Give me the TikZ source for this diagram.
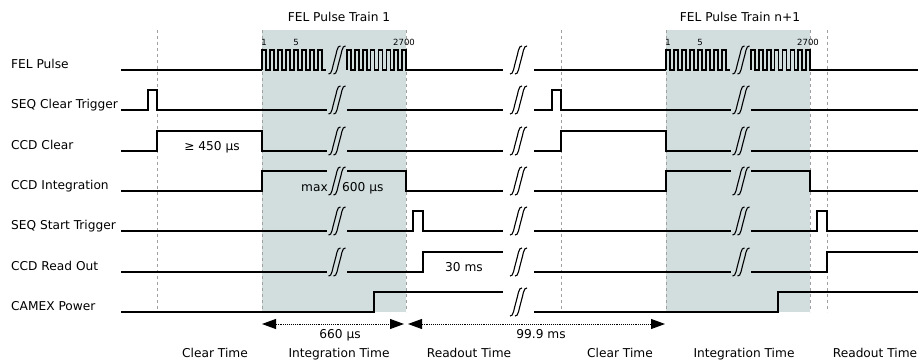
\documentclass[tikz,border=0pt]{standalone}
\usepackage{fontspec}
\setmainfont{DejaVu Sans}
\usetikzlibrary{arrows.meta, positioning, calc}
\definecolor{trainF}{HTML}{D2DEDE}
\definecolor{guideS}{HTML}{A0A0A0}
\tikzset{
  >={Triangle[length=14pt, width=10pt]},
  sig/.style={line width=1.9pt, line join=miter},
  pulse/.style={line width=1.6pt, line join=miter},
  guide/.style={dashed, draw=guideS, line width=0.7pt},
  trainbox/.style={fill=trainF, draw=none},
  rowlabel/.style={anchor=base west, inner sep=0pt, font=\fontsize{12.2}{14}\selectfont},
  tlabel/.style={anchor=base, inner sep=0pt, font=\fontsize{12.2}{14}\selectfont},
  plabel/.style={anchor=base, inner sep=0pt, font=\fontsize{8.5}{10}\selectfont},
  spanarrow/.style={<->, densely dotted, line width=0.9pt},
  brk/.pic={
    \draw[line width=1.1pt, xshift=-2.5pt] (-6,14) .. controls (-2.5,15) and (-2,6) .. (0,0)
      .. controls (2,-6) and (2.5,-15) .. (6,-14);
    \draw[line width=1.1pt, xshift=2.5pt] (-6,14) .. controls (-2.5,15) and (-2,6) .. (0,0)
      .. controls (2,-6) and (2.5,-15) .. (6,-14);
  },
}

\begin{document}
\begin{tikzpicture}[x=1pt, y=-1pt]
  \useasboundingbox (0,0) rectangle (918,361);

  % ---- Background --------------------------------------------------------
  \fill[trainbox] (262,30) rectangle (406,312);
  \fill[trainbox] (666,30) rectangle (810,312);
  \foreach \xg in {157,262,406,561,666,810,827}
    \draw[guide] (\xg,30) -- (\xg,312);

  % ---- Nodes -------------------------------------------------------------
  \node[tlabel] (train1) at (339,21.5) {FEL Pulse Train 1};
  \node[tlabel] (train2) at (740,21.5) {FEL Pulse Train n+1};

  \node[rowlabel] (fel)   at (11,68.5)  {FEL Pulse};
  \node[rowlabel] (seqc)  at (11,108.5) {SEQ Clear Trigger};
  \node[rowlabel] (clear) at (11,149.5) {CCD Clear};
  \node[rowlabel] (integ) at (11,189.5) {CCD Integration};
  \node[rowlabel] (seqs)  at (11,229.5) {SEQ Start Trigger};
  \node[rowlabel] (read)  at (11,270.5) {CCD Read Out};
  \node[rowlabel] (camex) at (11,310.5) {CAMEX Power};

  \node[plabel] (p1a) at (264,46) {1};
  \node[plabel] (p5a) at (296,46) {5};
  \node[plabel] (pna) at (404,46) {2700};
  \node[plabel] (p1b) at (668,46) {1};
  \node[plabel] (p5b) at (700,46) {5};
  \node[plabel] (pnb) at (808,46) {2700};

  \node[tlabel] (tclear) at (212,150.5) {≥ 450 µs};
  \node[tlabel, anchor=base east] (tmax) at (328,191.5) {max};
  \node[tlabel, anchor=base west] (tint) at (342,191.5) {600 µs};
  \node[tlabel] (tread) at (464,271.5) {30 ms};

  % ---- Signals -----------------------------------------------------------
  % FEL pulse trains
  \draw[sig] (121,70) -- (262,70);
  \draw[pulse] (262,70)
    \foreach \k in {1,...,8} { -- ++(0,-20) -- ++(4,0) -- ++(0,20) -- ++(4,0) };
  \draw[pulse] (347,70)
    \foreach \k in {1,...,8} { -- ++(0,-20) -- ++(4,0) -- ++(0,20) -- ++(3.86,0) };
  \draw[sig] (406,70) -- (503,70);
  \draw[sig] (534,70) -- (666,70);
  \draw[pulse] (666,70)
    \foreach \k in {1,...,8} { -- ++(0,-20) -- ++(4,0) -- ++(0,20) -- ++(4,0) };
  \draw[pulse] (751,70)
    \foreach \k in {1,...,8} { -- ++(0,-20) -- ++(4,0) -- ++(0,20) -- ++(3.86,0) };
  \draw[sig] (810,70) -- (918,70);

  % SEQ clear trigger
  \draw[sig] (121,110) -| (148,90) -| (157,110) -- (327,110);
  \draw[sig] (347,110) -- (503,110);
  \draw[sig] (534,110) -| (552,90) -| (561,110) -- (731,110);
  \draw[sig] (751,110) -- (918,110);

  % CCD clear
  \draw[sig] (121,151) -| (157,131) -| (262,151) -- (327,151);
  \draw[sig] (347,151) -- (503,151);
  \draw[sig] (534,151) -| (561,131) -| (666,151) -- (731,151);
  \draw[sig] (751,151) -- (918,151);

  % CCD integration
  \draw[sig] (121,191) -| (262,171) -- (327,171);
  \draw[sig] (347,171) -| (406,191) -- (503,191);
  \draw[sig] (534,191) -| (666,171) -- (731,171);
  \draw[sig] (751,171) -| (810,191) -- (918,191);

  % SEQ start trigger
  \draw[sig] (121,231) -- (327,231);
  \draw[sig] (347,231) -| (413,211) -| (423,231) -- (503,231);
  \draw[sig] (534,231) -- (731,231);
  \draw[sig] (751,231) -| (817,211) -| (827,231) -- (918,231);

  % CCD read out
  \draw[sig] (121,272) -- (327,272);
  \draw[sig] (347,272) -| (423,252) -- (503,252);
  \draw[sig] (534,272) -- (731,272);
  \draw[sig] (751,272) -| (827,252) -- (918,252);

  % CAMEX power
  \draw[sig] (121,312) -| (374,292) -- (503,292);
  \draw[sig] (534,312) -| (778,292) -- (918,292);

  % breaks
  \foreach \yb in {60,100,141,181,221,262} {
    \pic at (337,\yb) {brk};
    \pic at (741,\yb) {brk};
  }
  \foreach \yb in {60,100,141,181,221,262,302}
    \pic at (518.5,\yb) {brk};

  % ---- Durations ---------------------------------------------------------
  \coordinate (intA) at (262,324);
  \coordinate (intB) at (404,324);
  \coordinate (gapA) at (408,324);
  \coordinate (gapB) at (665,324);
  \draw[spanarrow] (intA) -- (intB);
  \draw[spanarrow] (gapA) -- (gapB);
  \node[tlabel] (t660) at (340,338) {660 µs};
  \node[tlabel] (t999) at (541,338) {99.9 ms};

  \node[tlabel] (ph1) at (215,357.5) {Clear Time};
  \node[tlabel] (ph2) at (339,357.5) {Integration Time};
  \node[tlabel] (ph3) at (469,357.5) {Readout Time};
  \node[tlabel] (ph4) at (620,357.5) {Clear Time};
  \node[tlabel] (ph5) at (744,357.5) {Integration Time};
  \node[tlabel] (ph6) at (875,357.5) {Readout Time};

\end{tikzpicture}
\end{document}
